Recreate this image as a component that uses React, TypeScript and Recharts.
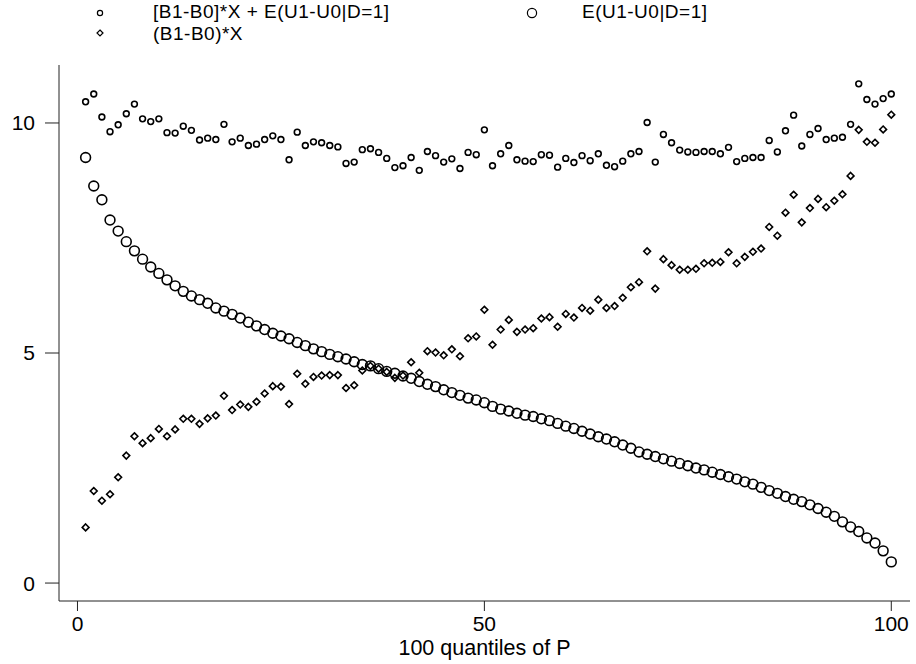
import React from 'react';
import { ScatterChart, Scatter, XAxis, YAxis } from 'recharts';

const quantiles = [
  1, 2, 3, 4, 5, 6, 7, 8, 9, 10, 11, 12, 13, 14, 15, 16, 17, 18, 19, 20,
  21, 22, 23, 24, 25, 26, 27, 28, 29, 30, 31, 32, 33, 34, 35, 36, 37, 38, 39, 40,
  41, 42, 43, 44, 45, 46, 47, 48, 49, 50, 51, 52, 53, 54, 55, 56, 57, 58, 59, 60,
  61, 62, 63, 64, 65, 66, 67, 68, 69, 70, 71, 72, 73, 74, 75, 76, 77, 78, 79, 80,
  81, 82, 83, 84, 85, 86, 87, 88, 89, 90, 91, 92, 93, 94, 95, 96, 97, 98, 99, 100,
];

// [B1-B0]*X + E(U1-U0|D=1]
const combined = [
  10.46, 10.63, 10.13, 9.81, 9.96, 10.2, 10.41, 10.09, 10.03, 10.09,
  9.79, 9.78, 9.93, 9.84, 9.63, 9.67, 9.64, 9.97, 9.59, 9.67,
  9.51, 9.54, 9.64, 9.72, 9.64, 9.2, 9.8, 9.51, 9.59, 9.57,
  9.51, 9.48, 9.12, 9.15, 9.42, 9.44, 9.36, 9.23, 9.03, 9.07,
  9.25, 8.97, 9.38, 9.29, 9.15, 9.22, 9.01, 9.36, 9.31, 9.85,
  9.07, 9.33, 9.51, 9.2, 9.17, 9.16, 9.31, 9.3, 9.04, 9.23,
  9.14, 9.29, 9.18, 9.33, 9.08, 9.05, 9.17, 9.33, 9.38, 10.01,
  9.15, 9.75, 9.57, 9.41, 9.37, 9.36, 9.38, 9.38, 9.33, 9.47,
  9.16, 9.23, 9.25, 9.25, 9.62, 9.37, 9.83, 10.17, 9.5, 9.75,
  9.88, 9.64, 9.67, 9.69, 9.97, 10.85, 10.51, 10.41, 10.53, 10.63,
];

// E(U1-U0|D=1]
const meanGain = [
  9.25, 8.63, 8.33, 7.89, 7.65, 7.42, 7.22, 7.04, 6.87, 6.73,
  6.59, 6.46, 6.34, 6.24, 6.16, 6.08, 5.98, 5.91, 5.84, 5.76,
  5.67, 5.59, 5.51, 5.43, 5.37, 5.31, 5.23, 5.16, 5.09, 5.03,
  4.97, 4.92, 4.87, 4.81, 4.75, 4.72, 4.66, 4.6, 4.56, 4.5,
  4.45, 4.38, 4.32, 4.27, 4.2, 4.14, 4.08, 4.02, 3.98, 3.92,
  3.84, 3.78, 3.74, 3.69, 3.65, 3.62, 3.57, 3.53, 3.47, 3.41,
  3.36, 3.3, 3.24, 3.18, 3.13, 3.07, 3.0, 2.93, 2.85, 2.8,
  2.75, 2.7, 2.65, 2.6, 2.55, 2.5, 2.46, 2.41, 2.36, 2.31,
  2.26, 2.2, 2.15, 2.08, 2.01, 1.95, 1.88, 1.82, 1.77, 1.7,
  1.62, 1.54, 1.45, 1.33, 1.22, 1.12, 0.98, 0.87, 0.7, 0.46,
];

// (B1-B0)*X
const observedPart = [
  1.21, 2.0, 1.79, 1.93, 2.3, 2.77, 3.19, 3.04, 3.15, 3.35,
  3.19, 3.34, 3.57, 3.57, 3.46, 3.58, 3.64, 4.07, 3.76, 3.88,
  3.83, 3.94, 4.12, 4.28, 4.27, 3.89, 4.55, 4.33, 4.48, 4.51,
  4.52, 4.52, 4.24, 4.3, 4.62, 4.72, 4.66, 4.59, 4.46, 4.51,
  4.8, 4.57, 5.04, 5.01, 4.95, 5.08, 4.93, 5.32, 5.36, 5.94,
  5.18, 5.51, 5.72, 5.46, 5.51, 5.54, 5.75, 5.78, 5.57, 5.85,
  5.77, 5.98, 5.92, 6.16, 5.98, 6.02, 6.2, 6.43, 6.54, 7.21,
  6.4, 7.04, 6.91, 6.81, 6.81, 6.83, 6.95, 6.96, 6.98, 7.19,
  6.95, 7.09, 7.2, 7.27, 7.74, 7.55, 8.05, 8.44, 7.84, 8.15,
  8.35, 8.17, 8.31, 8.45, 8.85, 9.85, 9.59, 9.57, 9.86, 10.18,
];

const xTicks = [0, 50, 100];
const yTicks = [0, 5, 10];
const xTitle = '100 quantiles of P';
const legendLabels = ['[B1-B0]*X + E(U1-U0|D=1]', '(B1-B0)*X', 'E(U1-U0|D=1]'];

const toPoints = (ys: number[]) => quantiles.map((q, i) => ({ q, v: ys[i] }));

const FONT = '"Liberation Sans", Arial, Helvetica, sans-serif';
const INK = '#000';
const SW = 1.6;

const SmallCircle = (p: any) => (
  <circle cx={p.cx} cy={p.cy} r={2.9} fill="none" stroke={INK} strokeWidth={SW} />
);
const BigCircle = (p: any) => (
  <circle cx={p.cx} cy={p.cy} r={4.9} fill="none" stroke={INK} strokeWidth={SW} />
);
const Diamond = (p: any) => {
  const d = 3.4;
  return (
    <path
      d={`M${p.cx},${p.cy - d}L${p.cx + d},${p.cy}L${p.cx},${p.cy + d}L${p.cx - d},${p.cy}Z`}
      fill="none"
      stroke={INK}
      strokeWidth={SW}
    />
  );
};

const XTitle = (props: any) => {
  const vb = props.viewBox || {};
  return (
    <text x={vb.x + vb.width / 2} y={655} textAnchor="middle" fontSize={21.5} fontFamily={FONT} fill={INK}>
      {xTitle}
    </text>
  );
};

export default function App() {
  return (
    <div style={{ position: 'absolute', left: 0, top: 0, width: 916, height: 664, background: '#fff' }}>
      <ScatterChart width={916} height={664} margin={{ top: 65, right: 6, bottom: 0, left: 0 }}>
        <XAxis
          type="number"
          dataKey="q"
          domain={[-2.27, 102.3]}
          ticks={xTicks}
          allowDataOverflow
          height={63}
          tickSize={10}
          tickMargin={5}
          stroke="#222"
          tick={{ fontSize: 21, fill: INK, fontFamily: FONT }}
          label={{ content: XTitle }}
        />
        <YAxis
          type="number"
          dataKey="v"
          domain={[-0.39, 11.26]}
          ticks={yTicks}
          allowDataOverflow
          width={59}
          tickSize={14}
          tickMargin={10}
          stroke="#222"
          tick={{ fontSize: 21, fill: INK, fontFamily: FONT }}
        />
        <Scatter data={toPoints(combined)} shape={SmallCircle} isAnimationActive={false} />
        <Scatter data={toPoints(meanGain)} shape={BigCircle} isAnimationActive={false} />
        <Scatter data={toPoints(observedPart)} shape={Diamond} isAnimationActive={false} />
      </ScatterChart>
      <svg
        width={916}
        height={45}
        style={{ position: 'absolute', left: 0, top: 0, pointerEvents: 'none' }}
      >
        <circle cx={100} cy={13} r={2.6} fill="none" stroke={INK} strokeWidth={1.2} />
        <text x={153} y={18} fontSize={19} letterSpacing={0.5} fontFamily={FONT} fill={INK}>{legendLabels[0]}</text>
        <path d="M100,30L103,33L100,36L97,33Z" fill="none" stroke={INK} strokeWidth={1.2} />
        <text x={153} y={39.5} fontSize={19} letterSpacing={0.5} fontFamily={FONT} fill={INK}>{legendLabels[1]}</text>
        <circle cx={532} cy={13} r={4.6} fill="none" stroke={INK} strokeWidth={1.2} />
        <text x={582} y={18} fontSize={19} letterSpacing={0.5} fontFamily={FONT} fill={INK}>{legendLabels[2]}</text>
      </svg>
    </div>
  );
}
